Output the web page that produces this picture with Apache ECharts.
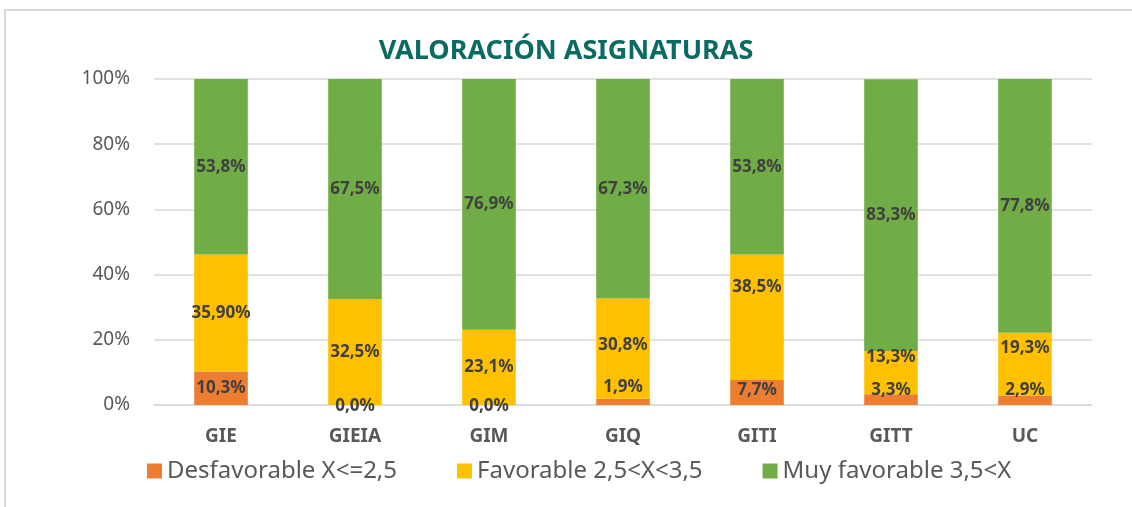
<!DOCTYPE html>
<html>
<head>
<meta charset="utf-8">
<title>Valoración asignaturas</title>
<script src="https://cdn.jsdelivr.net/npm/echarts@6/dist/echarts.min.js"></script>
<style>
  html, body { margin: 0; padding: 0; background: #ffffff; }
  #frame {
    position: absolute; left: 4px; top: 9px; right: -4px; bottom: -4px;
    border-top: 2px solid #d9d9d9; border-left: 2px solid #d9d9d9;
  }
  #chart { position: absolute; left: 0; top: 0; width: 1132px; height: 507px; }
</style>
</head>
<body>
<div id="frame"></div>
<div id="chart"></div>
<script>
const categories = ['GIE', 'GIEIA', 'GIM', 'GIQ', 'GITI', 'GITT', 'UC']

const desfavorable = [10.3, 0.0, 0.0, 1.9, 7.7, 3.3, 2.9]
const favorable = [35.9, 32.5, 23.1, 30.8, 38.5, 13.3, 19.3]
const muyFavorable = [53.8, 67.5, 76.9, 67.3, 53.8, 83.3, 77.8]

const desfavorableText = ['10,3%', '0,0%', '0,0%', '1,9%', '7,7%', '3,3%', '2,9%']
const favorableText = ['35,90%', '32,5%', '23,1%', '30,8%', '38,5%', '13,3%', '19,3%']
const muyFavorableText = ['53,8%', '67,5%', '76,9%', '67,3%', '53,8%', '83,3%', '77,8%']

const yTicks = [0, 20, 40, 60, 80, 100]

// Excel nudged some of the small labels upward
const desfShift = [0, 1, 1, -15, -2, -9, -10]
const favShift = [0, 0, 0, -3, -30, -15, -16]

const FONT = '"Noto Sans", "DejaVu Sans", sans-serif'

const labelStyle = {
  show: true,
  position: 'inside',
  color: '#404040',
  fontFamily: FONT,
  fontWeight: 'bold',
  fontSize: 17
}

const makeData = (values, texts, shifts) =>
  values.map((v, i) => ({
    value: v,
    label: { formatter: texts[i], offset: [0, shifts ? shifts[i] : 0] }
  }))

const chart = echarts.init(document.getElementById('chart'))

chart.setOption({
  animation: false,
  backgroundColor: 'transparent',
  title: {
    text: 'VALORACIÓN ASIGNATURAS',
    left: 'center',
    top: 33,
    textStyle: {
      color: '#0b6b63',
      fontFamily: FONT,
      fontWeight: 'bold',
      fontSize: 27
    }
  },
  legend: {
    bottom: 19,
    left: 142,
    itemWidth: 15,
    itemHeight: 15,
    itemGap: 60,
    icon: 'rect',
    textStyle: { color: '#595959', fontFamily: FONT, fontSize: 24 },
    data: ['Desfavorable X<=2,5', 'Favorable 2,5<X<3,5', 'Muy favorable 3,5<X']
  },
  grid: { left: 154, right: 40, top: 79, bottom: 102, containLabel: false },
  xAxis: {
    type: 'category',
    data: categories,
    axisTick: { show: false },
    axisLine: { lineStyle: { color: '#d9d9d9', width: 1.5 } },
    axisLabel: {
      color: '#595959',
      fontFamily: FONT,
      fontWeight: 'bold',
      fontSize: 19,
      margin: 22
    }
  },
  yAxis: {
    type: 'value',
    min: 0,
    max: 100,
    interval: 20,
    axisLine: { show: false },
    axisTick: { show: false },
    splitLine: { lineStyle: { color: '#d9d9d9', width: 1.5 } },
    axisLabel: {
      color: '#595959',
      fontFamily: FONT,
      fontSize: 19,
      margin: 24,
      formatter: (v) => (yTicks.includes(v) ? v + '%' : '')
    }
  },
  series: [
    {
      name: 'Desfavorable X<=2,5',
      type: 'bar',
      stack: 'total',
      barWidth: '40%',
      itemStyle: { color: '#ed7d31' },
      label: labelStyle,
      data: makeData(desfavorable, desfavorableText, desfShift)
    },
    {
      name: 'Favorable 2,5<X<3,5',
      type: 'bar',
      stack: 'total',
      barWidth: '40%',
      itemStyle: { color: '#ffc000' },
      label: labelStyle,
      data: makeData(favorable, favorableText, favShift)
    },
    {
      name: 'Muy favorable 3,5<X',
      type: 'bar',
      stack: 'total',
      barWidth: '40%',
      itemStyle: { color: '#70ad47' },
      label: labelStyle,
      data: makeData(muyFavorable, muyFavorableText)
    }
  ]
})

window.addEventListener('resize', () => chart.resize())
</script>
</body>
</html>
